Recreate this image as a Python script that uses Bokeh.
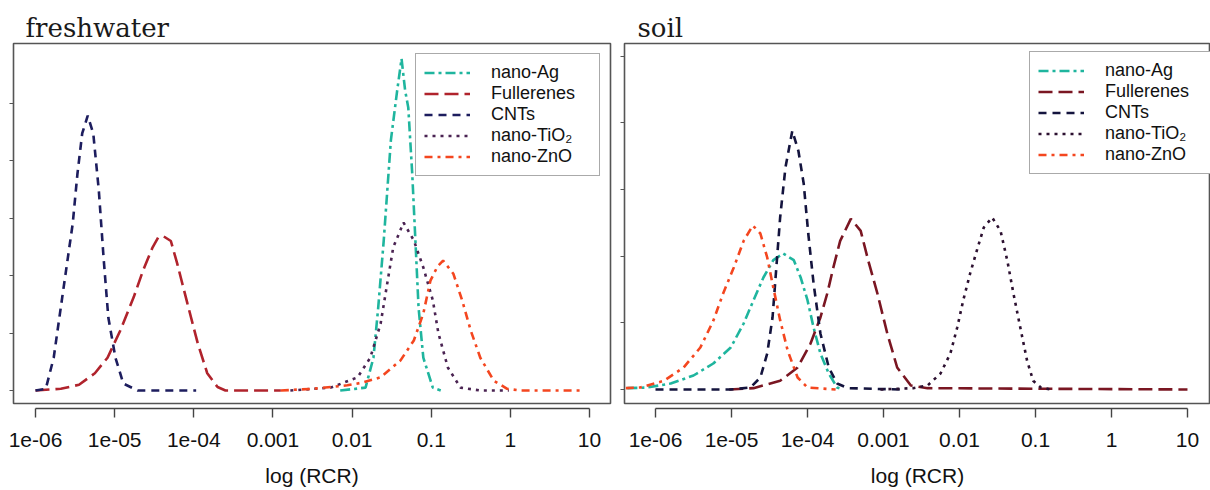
import numpy as np
from bokeh.plotting import figure
from bokeh.models import (LogAxis, FixedTicker, Legend, LegendItem, Range1d,
                          CustomJSTickFormatter)
from bokeh.layouts import row
from bokeh.embed import file_html
from bokeh.resources import INLINE

# ---------------- data (x = log10(RCR), y = density) ----------------
series_labels = ["nano-Ag", "Fullerenes", "CNTs", "nano-TiO\u2082", "nano-ZnO"]
x_tick_vals = [1e-6, 1e-5, 1e-4, 1e-3, 1e-2, 1e-1, 1, 10]
x_tick_labels = ["1e-06", "1e-05", "1e-04", "0.001", "0.01", "0.1", "1", "10"]
y_tick_vals = [0, 1, 2, 3, 4, 5]

# freshwater
fw_ag_x = [-2.15, -1.83, -1.73, -1.67, -1.60, -1.51, -1.43, -1.375, -1.33, -1.29, -1.24, -1.20, -1.16, -1.10, -0.98, -0.88]
fw_ag_y = [0.0, 0.05, 0.57, 1.44, 2.61, 4.35, 5.22, 5.77, 5.22, 4.92, 3.77, 2.61, 1.44, 0.57, 0.05, 0.0]
fw_ful_x = [-6.0, -5.68, -5.45, -5.25, -5.09, -4.93, -4.76, -4.64, -4.52, -4.45, -4.38, -4.29, -4.21, -4.08, -3.95, -3.83, -3.70, -3.60, -2.90]
fw_ful_y = [0.0, 0.03, 0.10, 0.30, 0.57, 1.04, 1.62, 2.09, 2.49, 2.66, 2.68, 2.60, 2.21, 1.51, 0.82, 0.30, 0.06, 0.0, 0.0]
fw_cnt_x = [-6.0, -5.87, -5.77, -5.65, -5.53, -5.47, -5.41, -5.34, -5.27, -5.20, -5.14, -5.08, -4.99, -4.89, -4.71, -3.97]
fw_cnt_y = [0.0, 0.03, 0.57, 1.74, 2.90, 3.77, 4.47, 4.78, 4.47, 3.48, 2.31, 1.27, 0.57, 0.12, 0.0, 0.0]
fw_tio2_x = [-2.78, -2.27, -1.93, -1.77, -1.64, -1.55, -1.48, -1.35, -1.22, -1.10, -0.98, -0.91, -0.79, -0.63, -0.38, -0.02]
fw_tio2_y = [0.0, 0.05, 0.23, 0.57, 1.16, 1.91, 2.49, 2.92, 2.61, 2.14, 1.57, 1.00, 0.40, 0.05, 0.0, 0.0]
fw_zno_x = [-2.90, -2.49, -2.06, -1.86, -1.64, -1.39, -1.22, -1.10, -1.01, -0.92, -0.85, -0.72, -0.61, -0.50, -0.38, -0.21, -0.04, 0.13, 0.92]
fw_zno_y = [0.0, 0.03, 0.09, 0.14, 0.23, 0.52, 0.87, 1.34, 1.91, 2.16, 2.26, 2.03, 1.57, 1.04, 0.57, 0.17, 0.03, 0.0, 0.0]

# soil
so_ag_x = [-6.37, -6.11, -5.80, -5.50, -5.24, -5.01, -4.84, -4.71, -4.58, -4.45, -4.32, -4.18, -4.09, -4.00, -3.92, -3.83, -3.72, -3.61, -3.53]
so_ag_y = [0.02, 0.03, 0.09, 0.21, 0.39, 0.63, 0.99, 1.34, 1.68, 1.94, 2.04, 1.94, 1.68, 1.34, 0.93, 0.54, 0.24, 0.03, 0.0]
so_ful_x = [-5.03, -4.71, -4.36, -4.13, -3.96, -3.83, -3.74, -3.66, -3.57, -3.43, -3.30, -3.20, -3.08, -2.95, -2.82, -2.64, -2.42, 1.0]
so_ful_y = [0.0, 0.02, 0.13, 0.33, 0.69, 1.08, 1.44, 1.83, 2.23, 2.56, 2.38, 1.93, 1.44, 0.84, 0.33, 0.06, 0.02, 0.0]
so_cnt_x = [-6.0, -5.01, -4.75, -4.62, -4.53, -4.46, -4.41, -4.36, -4.29, -4.20, -4.12, -4.05, -3.99, -3.92, -3.83, -3.72, -3.61, -3.47, -2.78]
so_cnt_y = [0.0, 0.0, 0.03, 0.18, 0.54, 1.08, 1.83, 2.58, 3.33, 3.88, 3.58, 3.09, 2.34, 1.59, 0.84, 0.33, 0.09, 0.02, 0.0]
so_tio2_x = [-3.04, -2.61, -2.42, -2.25, -2.12, -2.03, -1.95, -1.86, -1.76, -1.68, -1.57, -1.46, -1.37, -1.29, -1.20, -1.11, -1.03, -0.93, -0.80]
so_tio2_y = [0.0, 0.02, 0.06, 0.24, 0.54, 0.93, 1.34, 1.74, 2.13, 2.43, 2.58, 2.38, 1.93, 1.44, 0.93, 0.43, 0.13, 0.03, 0.0]
so_zno_x = [-6.39, -6.20, -5.89, -5.63, -5.41, -5.24, -5.11, -4.97, -4.84, -4.72, -4.62, -4.53, -4.45, -4.36, -4.26, -4.13, -4.00, -3.63]
so_zno_y = [0.02, 0.03, 0.13, 0.33, 0.63, 1.03, 1.44, 1.83, 2.23, 2.46, 2.34, 1.98, 1.53, 1.04, 0.58, 0.18, 0.03, 0.0]

# ---------------- styles ----------------
dashes = ["10 4 3 4", "14 6", "8 6", "3 5", "8 5 3 5"]
fw_colors = ["#1fb59e", "#b0232c", "#1d1d5e", "#4a2352", "#f4461f"]
so_colors = ["#1fb59e", "#7a1622", "#14143e", "#2c1030", "#f4461f"]

SANS = "Liberation Sans"


def make_panel(title, curves, colors, xr, yr, width, ml, mr, title_off, legend_loc):
    p = figure(width=width, height=490, x_axis_type="log",
               x_range=Range1d(10 ** xr[0], 10 ** xr[1]),
               y_range=Range1d(*yr), output_backend="svg",
               toolbar_location=None, min_border_left=ml, min_border_right=mr,
               min_border_top=43, min_border_bottom=87,
               background_fill_color="white", border_fill_color="white")
    p.xgrid.visible = False
    p.ygrid.visible = False
    p.outline_line_color = "#555555"
    p.outline_line_width = 1.6

    p.title.text = title
    p.title.text_font = "DejaVu Serif"
    p.title.text_font_size = "26px"
    p.title.text_font_style = "normal"
    p.title.text_color = "#1a1a1a"
    p.title.align = "left"
    p.title.offset = title_off
    p.title.standoff = 2

    # main x axis (R-style, detached from frame)
    xa = p.xaxis[0]
    xa.ticker = FixedTicker(ticks=x_tick_vals)
    xa.bounds = (x_tick_vals[0], x_tick_vals[-1])
    xa.formatter = CustomJSTickFormatter(
        args=dict(vals=x_tick_vals, labs=x_tick_labels),
        code="""
        for (let i = 0; i < vals.length; i++) {
            if (Math.abs(Math.log10(vals[i]) - Math.log10(tick)) < 1e-6) return labs[i];
        }
        return "";
        """)
    xa.major_tick_in = 0
    xa.major_tick_out = 9
    xa.minor_tick_line_color = None
    xa.axis_line_color = "#444444"
    xa.axis_line_width = 1.4
    xa.major_tick_line_color = "#444444"
    xa.major_tick_line_width = 1.4
    xa.major_label_text_font = SANS
    xa.major_label_text_font_size = "21px"
    xa.major_label_text_color = "#111111"
    xa.major_label_standoff = 15
    xa.axis_label = "log (RCR)"
    xa.axis_label_text_font = SANS
    xa.axis_label_text_font_size = "21px"
    xa.axis_label_text_font_style = "normal"
    xa.axis_label_text_color = "#111111"
    xa.axis_label_standoff = 14

    spacer = LogAxis(ticker=FixedTicker(ticks=x_tick_vals), major_tick_out=5,
                     major_tick_in=0, major_tick_line_color=None,
                     minor_tick_line_color=None, axis_line_color=None,
                     major_label_text_font_size="0px", major_label_standoff=0,
                     major_label_text_color=None)
    p.below = [spacer] + list(p.below)

    ya = p.yaxis[0]
    ya.ticker = FixedTicker(ticks=y_tick_vals)
    ya.major_tick_in = 0
    ya.major_tick_out = 4
    ya.minor_tick_line_color = None
    ya.axis_line_color = None
    ya.major_tick_line_color = "#555555"
    ya.major_label_text_font_size = "0px"
    ya.major_label_standoff = 0
    ya.major_label_text_color = None

    items = []
    for (xs, ys), lab, col, dsh in zip(curves, series_labels, colors, dashes):
        r = p.line(x=10 ** np.array(xs), y=ys, line_color=col, line_width=2.6,
                   line_dash=dsh)
        items.append(LegendItem(label=lab, renderers=[r]))

    leg = Legend(items=items, location=legend_loc)
    leg.margin = 10
    leg.padding = 8
    leg.spacing = 0
    leg.glyph_width = 46
    leg.glyph_height = 19
    leg.label_height = 19
    leg.label_width = 100
    leg.label_standoff = 21
    leg.label_text_font = SANS
    leg.label_text_font_size = "18px"
    leg.label_text_color = "#111111"
    leg.border_line_color = "#555555"
    leg.border_line_width = 1.6
    leg.background_fill_color = "white"
    leg.background_fill_alpha = 1.0
    p.add_layout(leg)
    return p


fw_curves = [(fw_ag_x, fw_ag_y), (fw_ful_x, fw_ful_y), (fw_cnt_x, fw_cnt_y),
             (fw_tio2_x, fw_tio2_y), (fw_zno_x, fw_zno_y)]
so_curves = [(so_ag_x, so_ag_y), (so_ful_x, so_ful_y), (so_cnt_x, so_cnt_y),
             (so_tio2_x, so_tio2_y), (so_zno_x, so_zno_y)]

p1 = make_panel("freshwater", fw_curves, fw_colors, (-6.278, 1.265),
                (-0.226, 6.035), 612, 13, 2, 12, "top_right")
p2 = make_panel("soil", so_curves, so_colors, (-6.408, 1.303),
                (-0.21, 5.19), 598, 12, 0, 13, (405, 229))

layout = row(p1, p2, spacing=0)
open("out.html", "w").write(file_html(layout, INLINE))
